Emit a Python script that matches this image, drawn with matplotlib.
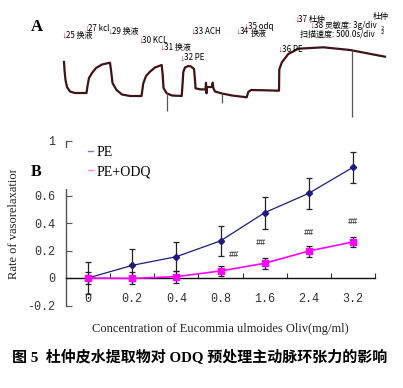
import matplotlib
matplotlib.use("Agg")
import matplotlib.pyplot as plt
from matplotlib.lines import Line2D
from matplotlib.patches import Rectangle

# ---------------- data ----------------
categories = ['0', '0.2', '0.4', '0.8', '1.6', '2.4', '3.2']
pe_mean = [0.0, 0.092, 0.155, 0.27, 0.475, 0.616, 0.805]
pe_err = [0.115, 0.116, 0.105, 0.108, 0.115, 0.114, 0.113]
odq_mean = [0.0, -0.003, 0.01, 0.051, 0.107, 0.196, 0.262]
odq_err = [0.045, 0.044, 0.044, 0.036, 0.04, 0.04, 0.034]
series_labels = ['PE', 'PE+ODQ']
sig_index = [3, 4, 5, 6]
sig_level = [0.172, 0.257, 0.33, 0.41]
sig_shift = [0.31, -0.09, 0.0, 0.0]
y_ticks = [-0.2, 0, 0.2, 0.4, 0.6, 0.8, 1.0]

# panel A trace (time units, tension units)
trace_t = [0, 0.5, 1.5, 3, 6, 11, 22.5, 23.5, 25, 28, 32, 38, 46, 47, 48.5, 52.5,
           58, 66, 77.5, 79.3, 82, 86, 91, 97.7, 98.7, 99.5, 102.7, 108, 117.7,
           118.5, 119.3, 121, 124.3, 127, 130, 131, 131.5, 136, 141.5, 142, 142.5,
           143, 148, 148.7, 149.3, 151, 158, 168, 182.7, 184.3, 187, 201, 215,
           215.3, 218, 221, 224.3, 234.3, 259.3, 286, 321]
trace_f = [58, 50, 40, 33, 28.5, 27, 27, 34, 42, 47, 52, 55.5, 57.3, 50, 37, 30,
           25.5, 24, 24, 36.7, 44, 48.3, 52.5, 55, 45, 32, 26.7, 24.5, 24,
           35, 48, 52.5, 54, 53.5, 51, 40, 31.7, 30.7, 30.5, 37.3, 26.7,
           33, 33, 37.3, 32, 28.5, 26.5, 24.5, 22.7, 28, 30, 29.7, 29.3,
           50.7, 58, 61.7, 66, 71.3, 72.7, 70, 63.3]
mark_t = [102.7, 157.7, 288.3]
mark_top = [27, 27, 70]
mark_bottom = [9, 17.3, 3.3]
event_labels = ['25 换液', '27 kcl', '29 换液', '30 KCL', '31 换液', '32 PE',
                '33 ACH', '34', '35 odq', '36 PE', '37 杜仲', '38 灵敏度: 3g/div']
event_t = [0, 22.7, 46, 76.7, 97.7, 117.7, 128.7, 173.7, 182, 216, 232.7, 248]
event_f = [85, 91.7, 89, 79.3, 73, 62, 89, 88.5, 93.5, 71, 100.5, 95]
note_labels = ['换液', '扫描速度: 500.0s/div', '2', '2', '杜仲']
note_t = [187, 236, 317, 317, 309]
note_f = [86.5, 86, 91.5, 88.0, 103.5]

caption = '图 5  杜仲皮水提取物对 ODQ 预处理主动脉环张力的影响'

# ---------------- figure ----------------
W, H = 403, 388
fig = plt.figure(figsize=(W / 100, H / 100), dpi=100)
mono_cjk = ['Liberation Mono', 'Noto Sans CJK SC', 'DejaVu Sans']
cjk = ['Noto Sans CJK SC', 'DejaVu Sans']
serif = ['Liberation Serif', 'DejaVu Serif']

# ---- panel A ----
axA = fig.add_axes([0, 268 / H, 1, 120 / H])
axA.set_xlim(-64, 339)
axA.set_ylim(0, 120)
axA.axis('off')
axA.plot(trace_t, trace_f, color='#3e1414', lw=1.6, solid_joinstyle='round')
axA.vlines(mark_t, mark_bottom, mark_top, color='#555555', lw=0.9)
for lab, t, f in zip(event_labels, event_t, event_f):
    axA.text(t, f, '↓', color='#e01010', fontsize=6.5, ha='center', va='center',
             family=mono_cjk)
    axA.text(t + 1.8, f, lab, color='#000000', fontsize=5.8, ha='left',
             va='center', family=cjk)
for lab, t, f in zip(note_labels, note_t, note_f):
    axA.text(t, f, lab, color='#000000', fontsize=5.8 if lab != '2' else 4.2,
             ha='left', va='center', family=cjk)

fig.text(36.5 / W, 1 - 27 / H, 'A', fontsize=12, fontweight='bold',
         family=serif, ha='center', va='center')

# ---- panel B ----
ax = fig.add_axes([66 / W, 82.5 / H, 309 / W, 165 / H])
x = list(range(len(categories)))
navy = '#1c1c80'
magenta = '#ff00ff'
ax.errorbar(x, pe_mean, yerr=pe_err, color=navy, lw=0.9, marker='D', ms=3.2,
            ecolor='#222222', elinewidth=0.9, capsize=2.2, capthick=0.9, zorder=3)
ax.errorbar(x, odq_mean, yerr=odq_err, color=magenta, lw=1.2, marker='s', ms=4,
            ecolor='#222222', elinewidth=0.9, capsize=2.2, capthick=0.9, zorder=3)
for i, lvl, sh in zip(sig_index, sig_level, sig_shift):
    ax.text(i + sh, lvl, '##', fontsize=6.2, fontweight='bold', color='#444444',
            ha='center', va='center', family=mono_cjk)

ax.set_xlim(-0.5, len(categories) - 0.5)
ax.set_ylim(-0.2, 1.0)
for s in ['top', 'right']:
    ax.spines[s].set_visible(False)
ax.spines['bottom'].set_position(('data', 0))
ax.spines['bottom'].set_color('#111111')
ax.spines['left'].set_color('#555555')
ax.spines['bottom'].set_linewidth(1.0)
ax.spines['left'].set_linewidth(1.0)

ax.set_xticks(x)
ax.set_xticklabels(categories)
ax.set_xticks([i + 0.5 for i in x], minor=True)
ax.tick_params(axis='x', which='major', length=0, pad=11, labelsize=8.5,
               labelcolor='#333333')
ax.tick_params(axis='x', which='minor', direction='in', length=3.5, width=0.8,
               color='#333333')
ax.set_yticks(y_ticks)
ax.set_yticklabels(['%g' % v for v in y_ticks])
ax.tick_params(axis='y', direction='in', length=4, width=0.8, color='#555555',
               pad=8, labelsize=8.5, labelcolor='#333333')
for lab in ax.get_xticklabels() + ax.get_yticklabels():
    lab.set_family(mono_cjk)

ax.set_xlabel('Concentration of Eucommia ulmoides Oliv(mg/ml)', fontsize=9,
              family=serif, color='#222222')
ax.xaxis.set_label_coords(0.498, -0.105)
ax.set_ylabel('Rate of vasorelaxation', fontsize=9, family=serif, color='#222222')
ax.yaxis.set_label_coords(-0.15, 0.50)

# white area behind the legend (covers axis / label like the original)
fig.add_artist(Rectangle((5 / W, (H - 170) / H), 160 / W, 22 / H,
                         transform=fig.transFigure, facecolor='white',
                         edgecolor='none', zorder=1.5))
fig.add_artist(Rectangle((26 / W, (H - 189) / H), 139 / W, 25 / H,
                         transform=fig.transFigure, facecolor='white',
                         edgecolor='none', zorder=1.5))
handles = [Line2D([], [], color='#8080b0', lw=1.0),
           Line2D([], [], color='#ff80ff', lw=1.0)]
fig.legend(handles, series_labels, loc='upper left',
           bbox_to_anchor=(88 / W, 1 - 146 / H), frameon=False,
           handlelength=0.35, handletextpad=0.3, borderpad=0, borderaxespad=0,
           labelspacing=0.45, prop={'family': serif, 'size': 10})
fig.text(36.5 / W, 1 - 172 / H, 'B', fontsize=11.5, fontweight='bold',
         family=serif, ha='center', va='center', zorder=3)

fig.text(200 / W, 1 - 357 / H, caption, fontsize=10.8, fontweight='bold',
         family=['Liberation Serif', 'Noto Sans CJK SC'], ha='center', va='center')

fig.savefig('out.png', dpi=100)
